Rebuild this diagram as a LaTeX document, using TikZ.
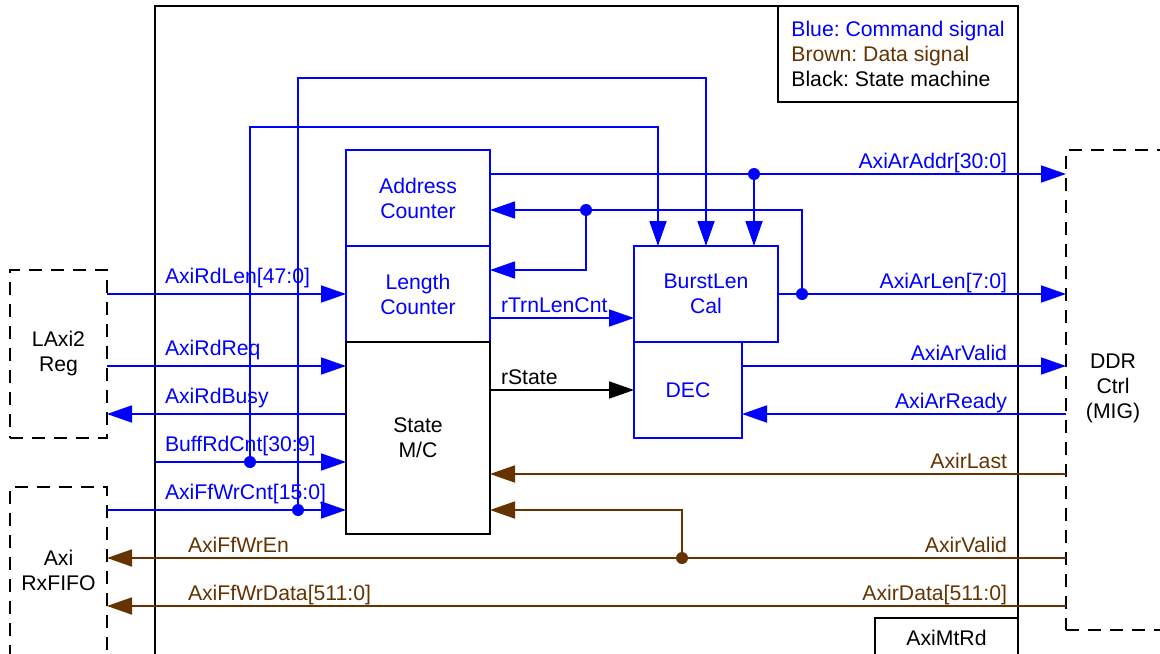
\documentclass[tikz,border=0pt]{standalone}
\usepackage{fontspec}
\setmainfont{Liberation Sans}
\usepackage{xcolor}
\usetikzlibrary{positioning, arrows.meta}
\definecolor{cmdblue}{RGB}{0,0,255}
\definecolor{datbrown}{RGB}{102,51,0}
\frenchspacing

\begin{document}
\begin{tikzpicture}[x=0.5pt, y=-0.5pt,
    font=\fontsize{10.6pt}{12.5pt}\selectfont,
    every node/.style={inner sep=0pt, outer sep=0pt},
    blk/.style={draw, line width=0.8pt, align=center, minimum width=72pt, minimum height=48pt},
    cmdblk/.style={blk, draw=cmdblue, text=cmdblue},
    extbox/.style={draw, line width=0.8pt, dash pattern=on 6.5pt off 4.5pt, align=center},
    sig/.style={line width=0.9pt, -{Triangle[length=12.5pt, width=8.5pt]}},
    cmd/.style={sig, color=cmdblue},
    dat/.style={sig, color=datbrown},
    fsmsig/.style={sig, color=black},
    inl/.style={anchor=base west, xshift=-90.5pt, yshift=5.5pt},
    outr/.style={anchor=base east, xshift=-29.5pt, yshift=2.75pt},
    datl/.style={anchor=base west, xshift=40.5pt, yshift=2.75pt},
    intl/.style={anchor=base west, xshift=5.5pt, yshift=2.75pt}]

    \useasboundingbox (0,0) rectangle (1160,653);

    % module frame, legend and name tag
    \node[blk, line width=0.9pt, minimum width=431.5pt, minimum height=347pt] (mtrd) at (586.5,353) {};
    \node[blk, align=left, minimum width=120pt] (legend) at (898,54) {\textcolor{cmdblue}{Blue: Command signal}\\\textcolor{datbrown}{Brown: Data signal}\\Black: State machine};
    \node[blk, minimum width=71.5pt, minimum height=20pt] (tag) at (946.5,638) {AxiMtRd};

    % outside blocks
    \node[extbox, minimum width=48.5pt, minimum height=84pt] (lreg) at (58.5,354) {LAxi2\\Reg};
    \node[extbox, minimum width=48.5pt, minimum height=110pt, anchor=north] (fifo) at (58.5,487) {};
    \node[align=center] (fifotxt) at (58.5,570) {Axi\\RxFIFO};
    \node[extbox, minimum width=60pt, minimum height=240pt, anchor=north west] (ddr) at (1066,150) {};
    \node[align=center] (ddrtxt) at (1113,388) {DDR\\Ctrl\\(MIG)};

    % inside blocks
    \node[cmdblk] (addr) at (418,198) {Address\\Counter};
    \node[cmdblk, below=0pt of addr] (len) {Length\\Counter};
    \node[blk, minimum height=96pt, below=0pt of len] (fsm) {State\\M/C};
    \node[cmdblk] (burst) at (706,294) {BurstLen\\Cal};
    \node[cmdblk, minimum width=54pt, anchor=north west] (dec) at (burst.south west) {DEC};

    % tap points
    \coordinate (fsmReq)  at ([yshift=36pt]fsm.west);
    \coordinate (fsmBusy) at ([yshift=12pt]fsm.west);
    \coordinate (fsmBuf)  at ([yshift=-12pt]fsm.west);
    \coordinate (fsmCnt)  at ([yshift=-36pt]fsm.west);
    \coordinate (fsmLast) at ([yshift=-18pt]fsm.east);
    \coordinate (fsmVld)  at ([yshift=-36pt]fsm.east);
    \coordinate (addrOut) at ([yshift=12pt]addr.east);
    \coordinate (addrIn)  at ([yshift=-6pt]addr.east);
    \coordinate (lenIn)   at ([yshift=12pt]len.east);
    \coordinate (lenOut)  at ([yshift=-12pt]len.east);
    \coordinate (decOut)  at ([yshift=12pt]dec.east);
    \coordinate (decIn)   at ([yshift=-12pt]dec.east);
    \coordinate (burstA)  at ([xshift=-24pt]burst.north);
    \coordinate (burstC)  at ([xshift=24pt]burst.north);
    % junctions and routes
    \coordinate (jBuf)  at ([xshift=-48pt]fsmBuf);
    \coordinate (jCnt)  at ([xshift=-24pt]fsmCnt);
    \coordinate (jLen)  at ([xshift=12pt]burst.east);
    \coordinate (jAddr) at ([xshift=48pt]addrIn);
    \coordinate (jVld)  at ([xshift=96pt]fsmVld);
    \coordinate (topA)  at ([yshift=11.5pt]addr.north);
    \coordinate (topB)  at ([yshift=36pt]addr.north);
    \coordinate (rVld)  at ([yshift=-12pt]fsm.south);
    \coordinate (rDat)  at ([yshift=-36pt]fsm.south);

    % LAxi2 Reg and FIFO side
    \draw[cmd] (lreg.east |- len.west) -- (len.west) node[pos=1, inl] (tRdLen) {AxiRdLen[47:0]};
    \draw[cmd] (lreg.east |- fsmReq) -- (fsmReq) node[pos=1, inl] (tRdReq) {AxiRdReq};
    \draw[cmd] (fsmBusy) -- (lreg.east |- fsmBusy) node[pos=0, inl] (tRdBusy) {AxiRdBusy};
    \draw[cmd] (mtrd.west |- fsmBuf) -- (fsmBuf) node[pos=1, inl] (tBuf) {BuffRdCnt[30:9]};
    \draw[cmd] (fifo.east |- fsmCnt) -- (fsmCnt) node[pos=1, inl] (tCnt) {AxiFfWrCnt[15:0]};
    \draw[cmd] (jBuf) -- (jBuf |- topA) -| (burstA);
    \draw[cmd] (jCnt) -- (jCnt |- topB) -| (burst.north);

    % DDR command side
    \draw[cmd] (addrOut) -- (addrOut -| ddr.west) node[pos=1, outr] (tArAddr) {AxiArAddr[30:0]};
    \draw[cmd] (addrOut -| burstC) -- (burstC);
    \draw[cmd] (burst.east) -- (burst.east -| ddr.west) node[pos=1, outr] (tArLen) {AxiArLen[7:0]};
    \draw[cmd] (jLen) |- (addrIn);
    \draw[cmd] (jAddr) |- (lenIn);
    \draw[cmd] (lenOut) -- (lenOut -| burst.west) node[pos=0, intl] (tTrn) {rTrnLenCnt};
    \draw[fsmsig] (dec.west -| fsm.east) -- (dec.west) node[pos=0, intl] (tState) {rState};
    \draw[cmd] (decOut) -- (decOut -| ddr.west) node[pos=1, outr] (tArVld) {AxiArValid};
    \draw[cmd] (ddr.west |- decIn) -- (decIn) node[pos=0, outr] (tArRdy) {AxiArReady};

    % data
    \draw[dat] (ddr.west |- fsmLast) -- (fsmLast) node[pos=0, outr] (tLast) {AxirLast};
    \draw[dat] (ddr.west |- rVld) -- (fifo.east |- rVld) node[pos=0, outr] (trVld) {AxirValid}
        node[pos=1, datl] (tWrEn) {AxiFfWrEn};
    \draw[dat] (jVld |- rVld) -- (jVld) -- (fsmVld);
    \draw[dat] (ddr.west |- rDat) -- (fifo.east |- rDat) node[pos=0, outr] (trDat) {AxirData[511:0]}
        node[pos=1, datl] (tWrDat) {AxiFfWrData[511:0]};

    \fill[cmdblue] (jBuf) circle[radius=3pt] (jCnt) circle[radius=3pt] (addrOut -| burstC) circle[radius=3pt]
        (jLen) circle[radius=3pt] (jAddr) circle[radius=3pt];
    \fill[datbrown] (jVld |- rVld) circle[radius=3pt];
\end{tikzpicture}
\end{document}
